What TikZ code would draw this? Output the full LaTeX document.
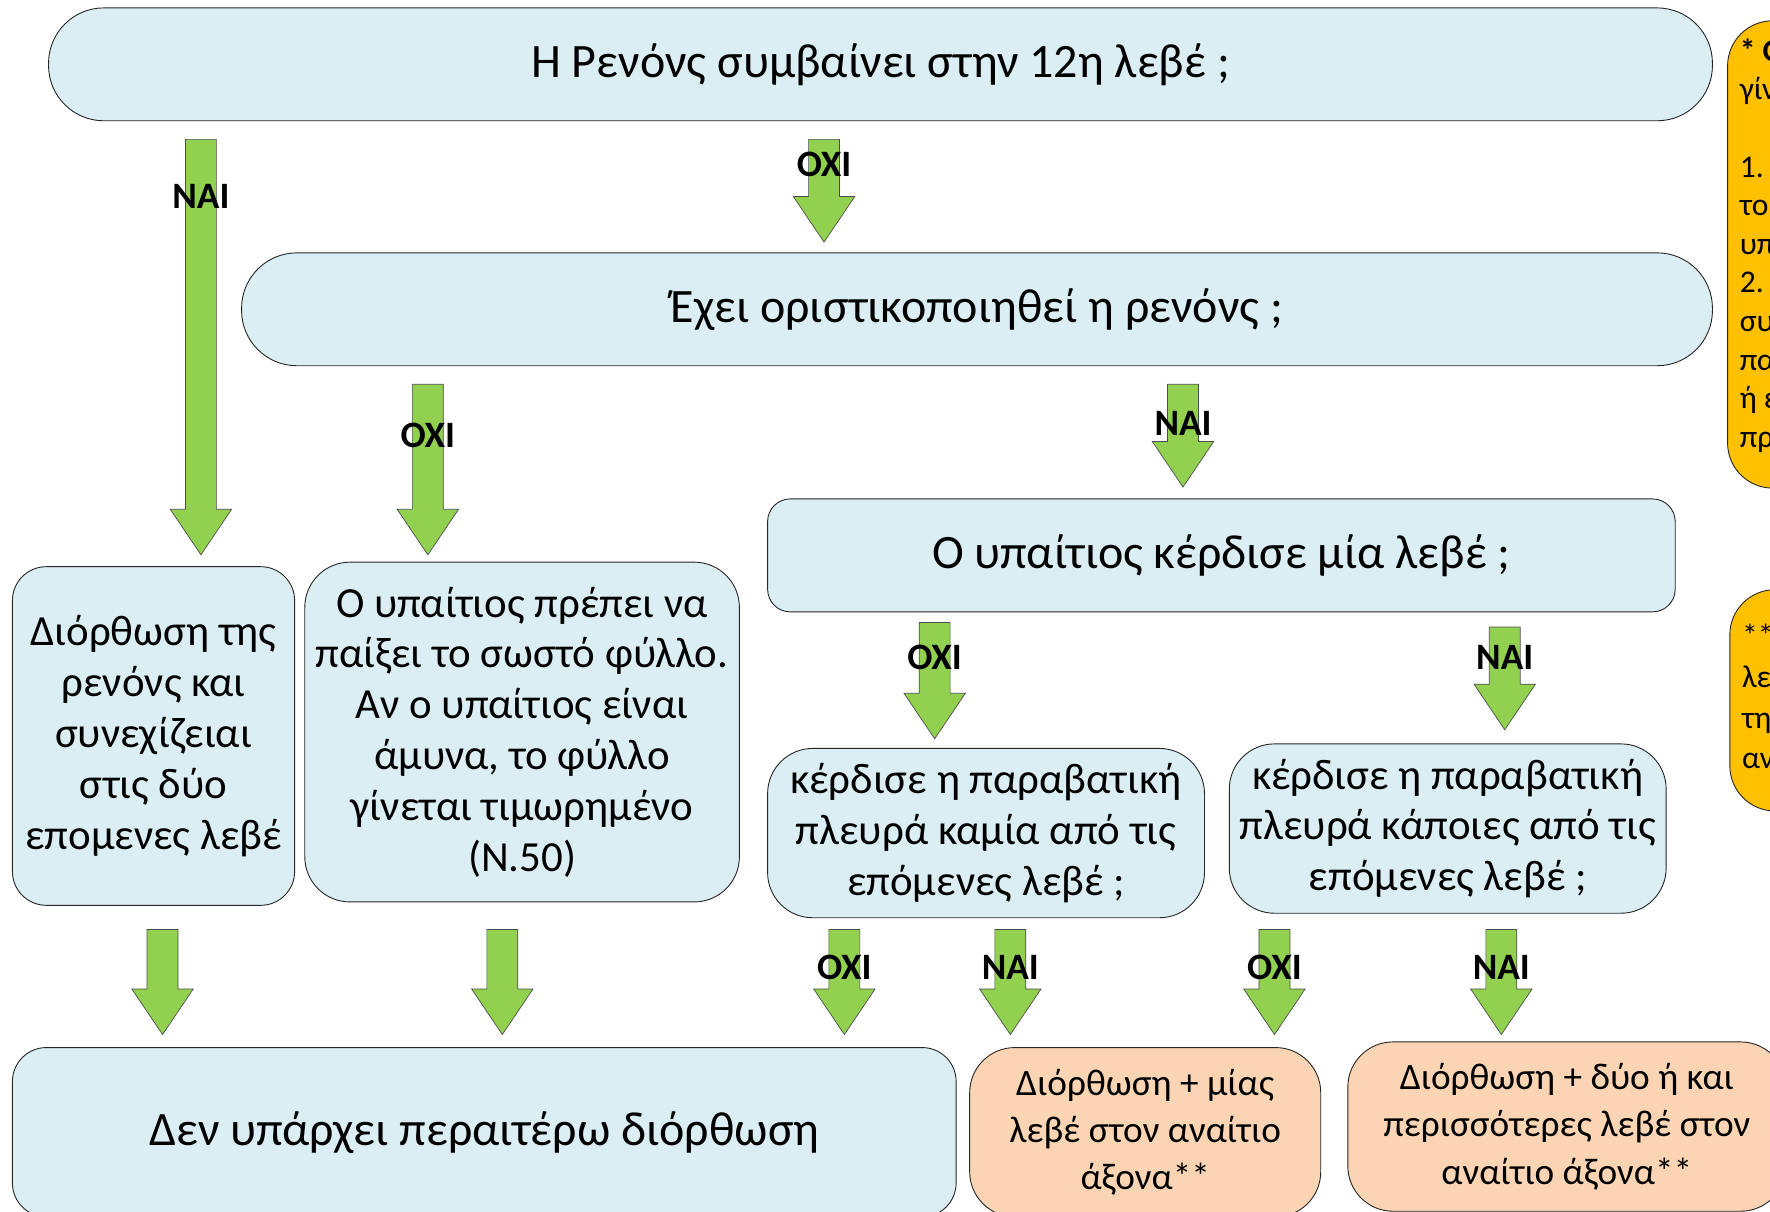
\documentclass[tikz,border=0pt]{standalone}
\usepackage{fontspec}
\setmainfont{Carlito}
\usetikzlibrary{shapes.arrows}
\definecolor{boxblue}{HTML}{DAEEF3}
\definecolor{boxpeach}{HTML}{FBD4B4}
\definecolor{notegold}{HTML}{FFC000}
\definecolor{arrowgreen}{HTML}{92D050}
\tikzset {
    x=1pt, y=-1pt,
    box/.style={draw=black!85, line width=0.8pt, fill=boxblue, rounded corners=#1,
        inner sep=0pt, align=center, font=\fontsize{38}{45}\selectfont},
    box/.default=40,
    bigbox/.style={box=#1, font=\fontsize{42.5}{48}\selectfont},
    pbox/.style={box, fill=boxpeach, font=\fontsize{33}{42}\selectfont},
    note/.style={draw=black!85, line width=0.8pt, fill=notegold, rounded corners=40,
        inner sep=0pt, anchor=north west},
    notetext/.style={inner sep=0pt, anchor=north west, align=left,
        font=\fontsize{28}{34.2}\selectfont},
    garrow/.style={single arrow, draw=black!70, line width=0.6pt, fill=arrowgreen,
        shape border rotate=270, minimum width=54, single arrow head extend=13.5,
        single arrow tip angle=68, inner sep=13.4pt, minimum height=#1, anchor=tip},
    answer/.style={inner sep=0pt, font=\bfseries\fontsize{33}{36}\selectfont}
}

\begin{document}
\begin{tikzpicture}
    \clip (0,0) rectangle (1568,1073);

    % questions
    \node[bigbox=49, minimum width=1474, minimum height=100] (q12) at (780,57)
        {Η Ρενόνς συμβαίνει στην 12η λεβέ ;};
    \node[bigbox=49, minimum width=1303, minimum height=100] (qfin) at (865.5,274)
        {Έχει οριστικοποιηθεί η ρενόνς ;};
    \node[bigbox=20, minimum width=804, minimum height=100] (qwon) at (1082,492)
        {Ο υπαίτιος κέρδισε μία λεβέ ;};
    \node[box=30, minimum width=250, minimum height=300] (fix) at (136,652)
        {Διόρθωση της\\ρενόνς και\\συνεχίζειαι\\στις δύο\\επομενες λεβέ};
    \node[box, minimum width=385, minimum height=301] (play) at (462.5,648.5)
        {Ο υπαίτιος πρέπει να\\παίξει το σωστό φύλλο.\\Αν ο υπαίτιος είναι\\άμυνα, το φύλλο\\γίνεται τιμωρημένο\\(Ν.50)};
    \node[box, minimum width=387, minimum height=150] (qnone) at (873.5,738)
        {κέρδισε η παραβατική\\πλευρά καμία από τις\\επόμενες λεβέ ;};
    \node[box, minimum width=387, minimum height=150] (qsome) at (1282.5,734)
        {κέρδισε η παραβατική\\πλευρά κάποιες από τις\\επόμενες λεβέ ;};

    % results
    \node[bigbox=30, minimum width=836, minimum height=150] (nofix) at (429,1003)
        {Δεν υπάρχει περαιτέρω διόρθωση};
    \node[pbox, minimum width=311, minimum height=150] (one) at (1014.5,1003)
        {Διόρθωση + μίας\\λεβέ στον αναίτιο\\άξονα**};
    \node[pbox, minimum width=388, minimum height=150] (more) at (1388,998)
        {Διόρθωση + δύο ή και\\περισσότερες λεβέ στον\\αναίτιο άξονα**};

    % notes
    \node[note, minimum width=300, minimum height=414] (n1) at (1530,18) {};
    \node[notetext] (n1t) at (1541,34)
        {\textbf{* Ο}\\γίν\\[34.2pt]1.\\το\\υπ\\2.\\συ\\πα\\ή ε\\πρ};
    \node[note, minimum width=300, minimum height=196] (n2) at (1532,522) {};
    \node[notetext, font=\fontsize{28}{36}\selectfont] (n2t) at (1543,553)
        {**\\λε\\τη\\αν};

    % arrows (placed by their tips)
    \node[garrow=368] (a1) at (178,492) {};
    \node[garrow=91] (a2) at (730,215) {};
    \node[garrow=151] (a3) at (379,492) {};
    \node[garrow=91] (a4) at (1048,432) {};
    \node[garrow=103] (a5) at (828,655) {};
    \node[garrow=91] (a6) at (1333,647) {};
    \foreach \x [count=\i] in {144,445,748,895,1129,1330}
        \node[garrow=93] (b\i) at (\x,917) {};

    % answers
    \node[answer] (l1) at (178,174) {ΝΑΙ};
    \node[answer] (l2) at (730,146) {ΟΧΙ};
    \node[answer] (l3) at (379,386) {ΟΧΙ};
    \node[answer] (l4) at (1048,375) {ΝΑΙ};
    \node[answer] (l5) at (828,582) {ΟΧΙ};
    \node[answer] (l6) at (1333,582) {ΝΑΙ};
    \node[answer] (l7) at (748,857) {ΟΧΙ};
    \node[answer] (l8) at (895,857) {ΝΑΙ};
    \node[answer] (l9) at (1129,857) {ΟΧΙ};
    \node[answer] (l10) at (1330,857) {ΝΑΙ};
\end{tikzpicture}
\end{document}
